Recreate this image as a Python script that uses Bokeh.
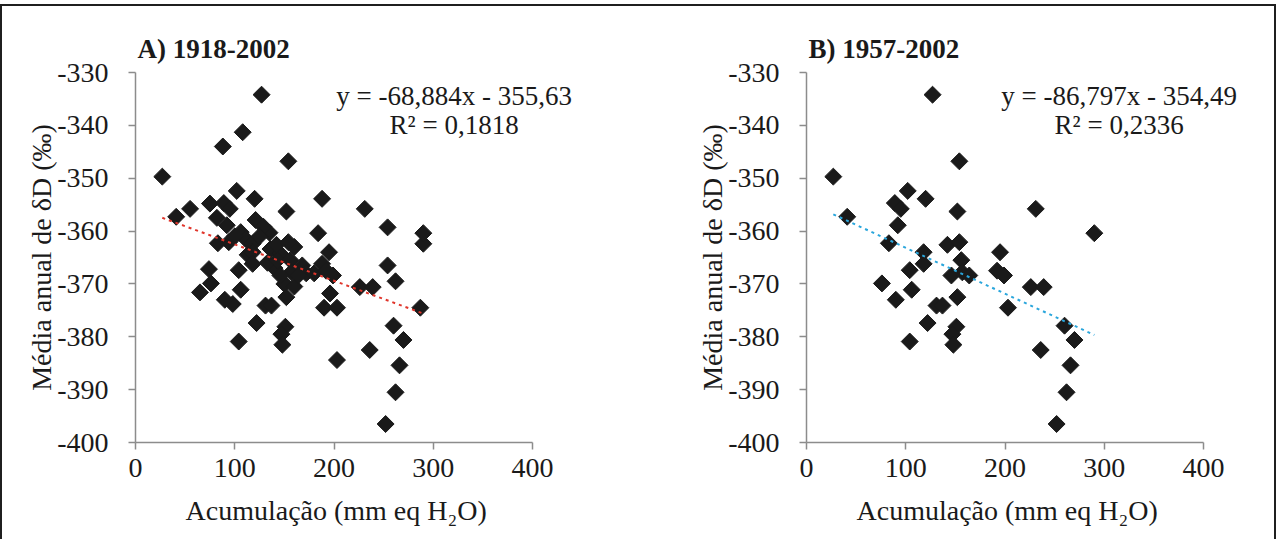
import numpy as np
from bokeh.plotting import figure
from bokeh.layouts import row
from bokeh.models import Range1d, Label, FixedTicker, PrintfTickFormatter, Title
from bokeh.embed import file_html
from bokeh.resources import INLINE

# ---- data (accumulation mm eq H2O, annual mean dD permil) ----
# years 1957-2002 (panel B, also part of panel A)
late_x = [127, 154, 27, 102, 120, 89, 95, 152, 231, 41, 92, 290, 83, 142, 154,
          118, 195, 156, 118, 104, 157, 146, 192, 199, 164, 76, 106, 226, 239,
          152, 90, 131, 137, 203, 122, 151, 147, 260, 148, 104, 270, 236, 266,
          262, 252]
late_y = [-334.2, -346.8, -349.7, -352.4, -353.9, -354.7, -355.8, -356.3, -355.8,
          -357.3, -358.9, -360.4, -362.3, -362.6, -362.1, -364.0, -364.0, -365.5,
          -366.2, -367.4, -367.8, -368.4, -367.5, -368.4, -368.4, -369.9, -371.1,
          -370.6, -370.6, -372.5, -373.0, -374.1, -374.1, -374.5, -377.4, -378.1,
          -379.5, -377.9, -381.5, -380.9, -380.6, -382.5, -385.4, -390.5, -396.5]
# years 1918-1956 (only in panel A)
early_x = [108, 88, 188, 75, 55, 121, 135, 184, 254, 106, 111, 94, 118, 129, 136,
           168, 188, 290, 74, 65, 98, 196, 190, 254, 262, 287, 203, 146, 100, 125,
           140, 160, 172, 113, 133, 150, 180, 160, 82, 143]
early_y = [-341.3, -344.0, -353.9, -354.8, -355.8, -357.9, -360.3, -360.4, -359.3,
           -360.2, -361.5, -362.1, -362.4, -359.2, -363.4, -366.5, -366.2, -362.4,
           -367.2, -371.6, -373.8, -371.8, -374.5, -366.5, -369.5, -374.5, -384.4,
           -364.3, -361.0, -361.0, -367.0, -363.0, -368.0, -364.5, -366.0, -370.0,
           -368.0, -370.5, -357.5, -365.5]

titles = ["A) 1918-2002", "B) 1957-2002"]
slopes = [-68.884, -86.797]        # per m w.e.
intercepts = [-355.63, -354.49]
equations = ["y = -68,884x - 355,63", "y = -86,797x - 354,49"]
r2_texts = ["R\u00b2 = 0,1818", "R\u00b2 = 0,2336"]
x_ticks = [0, 100, 200, 300, 400]
y_ticks = [-400, -390, -380, -370, -360, -350, -340, -330]
x_label = "Acumulação (mm eq H\u2082O)"
y_label = "Média anual de δD (‰)"

FONT = "Liberation Serif"
TXT = "#1a1a1a"
AXC = "#8c8c8c"

AXIS_W = 397          # px spanned by 0..400
EXTRA = 60            # extra frame room on the right for the equation text
FRAME_W = AXIS_W + EXTRA
X_END = 400.0 * FRAME_W / AXIS_W


def panel(i, xs, ys, line_color, right_border, eq_x):
    p = figure(frame_width=FRAME_W, frame_height=370,
               x_range=Range1d(0, X_END), y_range=Range1d(-400, -330),
               output_backend="svg", toolbar_location=None,
               min_border_left=125, min_border_right=right_border,
               min_border_top=58, min_border_bottom=88,
               title=titles[i])
    p.title.text_font = FONT
    p.title.text_font_size = "27px"
    p.title.text_font_style = "bold"
    p.title.text_color = TXT
    p.title.align = "left"
    p.title.offset = 2
    p.title.standoff = 18
    p.grid.visible = False
    p.outline_line_color = None
    p.background_fill_color = "white"
    p.border_fill_color = "white"

    for ax in (p.xaxis[0], p.yaxis[0]):
        ax.axis_line_color = AXC
        ax.axis_line_width = 1.5
        ax.major_tick_line_color = AXC
        ax.major_tick_line_width = 1.5
        ax.major_tick_out = 7
        ax.major_tick_in = 0
        ax.minor_tick_line_color = None
        ax.major_label_text_font = FONT
        ax.major_label_text_font_size = "28px"
        ax.major_label_text_color = TXT
        ax.axis_label_text_font = FONT
        ax.axis_label_text_font_size = "28px"
        ax.axis_label_text_font_style = "normal"
        ax.axis_label_text_color = TXT
        ax.formatter = PrintfTickFormatter(format="%d")
    p.xaxis.ticker = FixedTicker(ticks=x_ticks)
    p.yaxis.ticker = FixedTicker(ticks=y_ticks)
    p.xaxis.bounds = (0, 400)
    p.xaxis.major_label_standoff = 9
    p.yaxis.major_label_standoff = 20
    p.yaxis.axis_label = y_label
    p.yaxis.axis_label_standoff = -3

    # x-axis caption, placed under the 0..400 axis span
    xt = Title(text=x_label, align="left", offset=50, standoff=27,
               text_font=FONT, text_font_size="28px",
               text_font_style="normal", text_color=TXT)
    p.add_layout(xt, "below")

    p.scatter(xs, ys, marker="square", angle=np.pi / 4, size=12,
              fill_color=TXT, line_color=TXT)

    xl = [min(xs), max(xs)]
    yl = [intercepts[i] + slopes[i] * x / 1000.0 for x in xl]
    p.line(xl, yl, line_color=line_color, line_width=2, line_dash="3 4")

    p.add_layout(Label(x=eq_x, y=-334.5, text=equations[i], text_align="center",
                       text_baseline="middle", text_font=FONT,
                       text_font_size="27px", text_color=TXT))
    p.add_layout(Label(x=eq_x, y=-339.9, text=r2_texts[i], text_align="center",
                       text_baseline="middle", text_font=FONT,
                       text_font_size="27px", text_color=TXT))
    return p


pA = panel(0, early_x + late_x, early_y + late_y, "#e0362c", 149 - EXTRA, 321)
pB = panel(1, late_x, late_y, "#2aa6dc", 71 - EXTRA, 315)

layout = row(pA, pB, styles={"border-top": "2px solid #1f1f1f",
                             "border-left": "2px solid #1f1f1f",
                             "border-right": "2px solid #1f1f1f",
                             "margin-top": "4px",
                             "padding-left": "8px",
                             "padding-top": "8px",
                             "background-color": "white"})

open("out.html", "w").write(file_html(layout, INLINE))
